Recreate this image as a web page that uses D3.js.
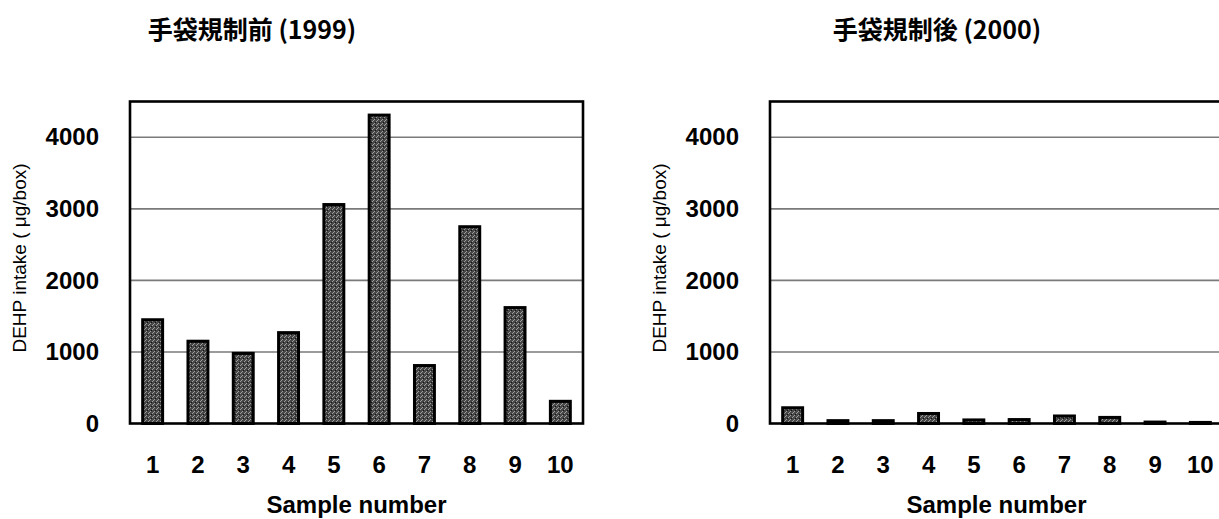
<!DOCTYPE html>
<html>
<head>
<meta charset="utf-8">
<script src="https://cdn.jsdelivr.net/npm/d3@7"></script>
<style>
  body { margin: 0; background: #fff; }
  svg { display: block; }
</style>
</head>
<body>
<svg id="chart" width="1219" height="519"></svg>
<script>
// ====== DATA ====== \\
const samples = ['1', '2', '3', '4', '5', '6', '7', '8', '9', '10']
const before1999 = [1450, 1150, 980, 1270, 3060, 4310, 810, 2750, 1620, 310]
const after2000 = [220, 40, 40, 140, 50, 55, 105, 85, 20, 15]
const yTicks = [0, 1000, 2000, 3000, 4000]
const titles = ['手袋規制前 (1999)', '手袋規制後 (2000)']

const svg = d3.select('#chart')
const plotW = 453
const plotTop = 101.5
const plotBottom = 423.5

// hatch + stipple fill for the bars
const defs = svg.append('defs')
const pat = defs.append('pattern')
    .attr('id', 'hatch')
    .attr('patternUnits', 'userSpaceOnUse')
    .attr('width', 4).attr('height', 4)
pat.append('rect').attr('width', 4).attr('height', 4).attr('fill', '#474747')
pat.append('path').attr('d', 'M-1,1 l2,-2 M0,4 l4,-4 M3,5 l2,-2')
    .attr('stroke', '#a8a8a8').attr('stroke-width', 0.9)
pat.append('rect').attr('x', 1).attr('y', 2).attr('width', 1).attr('height', 1).attr('fill', '#111')

const y = d3.scaleLinear().domain([0, 4500]).range([plotBottom, plotTop])

function drawPanel(x0, values, title, titleX) {
    const g = svg.append('g').attr('transform', `translate(${x0},0)`)

    const x = d3.scaleBand()
        .domain(samples)
        .range([0, plotW])
        .paddingInner(0.56)
        .paddingOuter(0.28)

    // gridlines
    g.selectAll('line.grid')
        .data(yTicks.filter(t => t > 0))
        .join('line')
        .attr('class', 'grid')
        .attr('x1', 0).attr('x2', plotW)
        .attr('y1', d => y(d)).attr('y2', d => y(d))
        .attr('stroke', '#7a7a7a')
        .attr('stroke-width', 1.6)

    // bars
    g.selectAll('rect.bar')
        .data(values)
        .join('rect')
        .attr('class', 'bar')
        .attr('x', (d, i) => x(samples[i]))
        .attr('width', x.bandwidth())
        .attr('y', d => y(d))
        .attr('height', d => y(0) - y(d))
        .attr('fill', 'url(#hatch)')
        .attr('stroke', '#000')
        .attr('stroke-width', 3)

    // frame
    g.append('rect')
        .attr('x', 0).attr('y', plotTop)
        .attr('width', plotW).attr('height', plotBottom - plotTop)
        .attr('fill', 'none')
        .attr('stroke', '#000')
        .attr('stroke-width', 2.6)

    // y axis labels
    const yAxis = g.append('g')
        .call(d3.axisLeft(y).tickValues(yTicks).tickFormat(d3.format('d')).tickSize(0).tickPadding(31))
    yAxis.select('.domain').remove()
    yAxis.selectAll('text')
        .attr('font-family', '"Liberation Sans", Arial, sans-serif')
        .attr('font-size', 24)
        .attr('font-weight', 'bold')
        .attr('fill', '#000')

    // x axis labels
    const xAxis = g.append('g')
        .attr('transform', `translate(0,${plotBottom})`)
        .call(d3.axisBottom(x).tickSize(0).tickPadding(32))
    xAxis.select('.domain').remove()
    xAxis.selectAll('text')
        .attr('font-family', '"Liberation Sans", Arial, sans-serif')
        .attr('font-size', 24)
        .attr('font-weight', 'bold')
        .attr('fill', '#000')

    g.append('text')
        .attr('x', plotW / 2)
        .attr('y', 513)
        .attr('text-anchor', 'middle')
        .attr('font-family', '"Liberation Sans", Arial, sans-serif')
        .attr('font-size', 24)
        .attr('font-weight', 'bold')
        .text('Sample number')

    g.append('text')
        .attr('transform', `translate(-104,258) rotate(-90)`)
        .attr('text-anchor', 'middle')
        .attr('font-family', '"Liberation Sans", Arial, sans-serif')
        .attr('font-size', 19)
        .text('DEHP intake ( μg/box)')

    svg.append('text')
        .attr('x', titleX)
        .attr('y', 39)
        .attr('text-anchor', 'middle')
        .attr('font-family', '"Noto Sans CJK JP", sans-serif')
        .attr('font-size', 25)
        .attr('font-weight', 'bold')
        .text(title)
}

drawPanel(130, before1999, titles[0], 252)
drawPanel(770, after2000, titles[1], 937)
</script>
</body>
</html>
